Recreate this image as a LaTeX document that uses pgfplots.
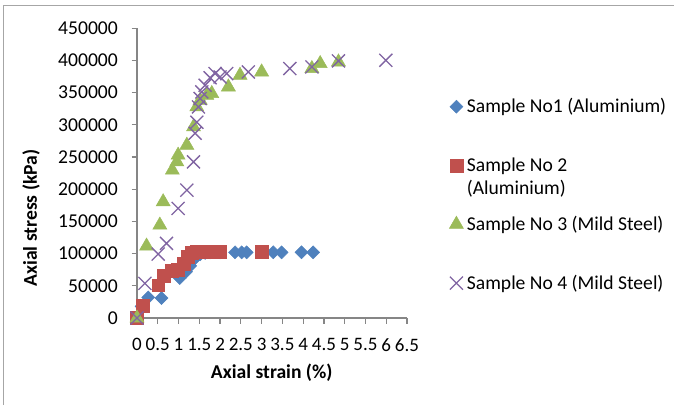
\documentclass[border=0pt]{standalone}
\usepackage{fontspec}
\setmainfont{Carlito}
\usepackage{pgfplots}
\pgfplotsset{compat=1.18}
\definecolor{s1}{HTML}{4F81BD}
\definecolor{s2}{HTML}{C0504D}
\definecolor{s3}{HTML}{9BBB59}
\definecolor{s4}{HTML}{8064A2}
\definecolor{axgray}{HTML}{868686}
\definecolor{framegray}{HTML}{A6A6A6}
\newcommand\fs{\fontsize{19.6}{22.7}\selectfont}
\newcommand\fx{\fontsize{19}{22.7}\selectfont}
\begin{document}
\begin{tikzpicture}[x=1pt,y=1pt]
\useasboundingbox (0,0) rectangle (674,405);
\draw[framegray, line width=1.6pt] (3.5,0) -- (3.5,399.5) -- (674,399.5);
\begin{axis}[
  at={(137pt,87pt)}, anchor=south west,
  scale only axis, width=270pt, height=289.7pt,
  xmin=0, xmax=6.5, ymin=0, ymax=450000,
  axis x line=bottom, axis y line=left,
  axis line style={-, draw=axgray, line width=1.2pt},
  tick align=outside, major tick length=5.5pt,
  tick style={draw=axgray, line width=1.2pt},
  xtick={0,0.5,1,1.5,2,2.5,3,3.5,4,4.5,5,5.5,6,6.5},
  xticklabels={0,0.5,1,1.5,2,2.5,3,3.5,4,4.5,5,5.5,6,6.5},
  ytick={0,50000,100000,150000,200000,250000,300000,350000,400000,450000},
  yticklabels={0,50000,100000,150000,200000,250000,300000,350000,400000,450000},
  scaled ticks=false,
  tick label style={text=black},
  xticklabel style={font=\fx, inner sep=0pt, anchor=north, yshift=-14.5pt},
  yticklabel style={font=\fs, inner sep=0pt, anchor=east, xshift=-13.5pt},
  xlabel={Axial strain (\%)}, ylabel={Axial stress (kPa)},
  label style={font=\fs\bfseries},
  xlabel style={at={(axis description cs:0.499,-0.19)}, anchor=center, inner sep=0pt},
  ylabel style={at={(axis description cs:-0.3926,0.345)}, anchor=center, inner sep=0pt},
  clip=false,
  legend style={draw=none, fill=none, at={(axis description cs:1.157,0.7732)}, anchor=north west,
    inner sep=0pt, outer sep=0pt, row sep=0pt, column sep=3.5pt, font=\fs,
    nodes={inner sep=0pt, text height=18.8pt, text depth=40pt}, cells={anchor=base west}},
  legend image code/.code={\draw[#1, yshift=6.1pt] plot coordinates {(0pt,0pt)};},
]
\addplot[only marks, mark=square*, mark size=4.6pt, mark options={rotate=45, fill=s1, draw=s1, line width=0.5pt}] coordinates {
(0,0) (0.11,18000) (0.27,32000) (0.59,31000) (1.03,62000) (1.18,72000) (1.28,81000)
(1.40,93000) (1.52,99000) (1.64,101000) (1.76,102000) (2.0,102000) (2.36,102000)
(2.52,102000) (2.64,102000) (3.28,102000) (3.48,102000) (3.96,102000) (4.24,102000)
};
\addlegendentry{Sample No1 (Aluminium)}
\addplot[only marks, mark=square*, mark size=6.4pt, mark options={fill=s2, draw=s2, line width=0.5pt}] coordinates {
(0,0) (0.14,19000) (0.51,51000) (0.64,66000) (0.84,73000) (0.99,75000) (1.13,84000)
(1.23,95000) (1.32,101000) (1.44,102500) (1.59,103000) (1.76,103000) (2.0,103000) (3.0,102500)
};
\addlegendentry{\begin{tabular}[t]{@{}l@{}}Sample No 2\\(Aluminium)\end{tabular}}
\addplot[only marks, mark=triangle*, mark size=8.1pt, mark options={fill=s3, draw=s3, line width=0.5pt}] coordinates {
(0,0) (0.23,111700) (0.55,144300) (0.63,180500) (0.85,229600) (0.96,242500) (0.99,252900)
(1.20,268400) (1.36,296800) (1.44,327900) (1.52,338300) (1.68,346000) (1.80,348700)
(2.20,358900) (2.48,377100) (3.00,382200) (4.21,387500) (4.41,395200) (4.85,397700)
};
\addlegendentry{Sample No 3 (Mild Steel)}
\addplot[only marks, mark=x, mark size=9.2pt, mark options={draw=s4, line width=1.3pt}] coordinates {
(0,0) (0.19,53800) (0.51,99300) (0.71,115900) (0.99,170200) (1.20,198600) (1.36,242500)
(1.40,287000) (1.44,304100) (1.48,327900) (1.52,340900) (1.56,351200) (1.64,361500)
(1.76,373200) (1.88,379700) (2.00,374400) (2.16,379700) (2.68,382200) (3.68,387500)
(4.21,390000) (4.85,399300) (5.99,400300)
};
\addlegendentry{Sample No 4 (Mild Steel)}
\end{axis}
\end{tikzpicture}
\end{document}
